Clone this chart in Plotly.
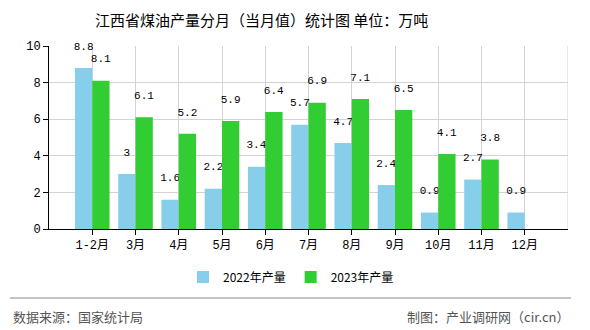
import plotly.graph_objects as go

categories = ["1-2月", "3月", "4月", "5月", "6月", "7月", "8月", "9月", "10月", "11月", "12月"]
values_2022 = [8.8, 3, 1.6, 2.2, 3.4, 5.7, 4.7, 2.4, 0.9, 2.7, 0.9]
values_2023 = [8.1, 6.1, 5.2, 5.9, 6.4, 6.9, 7.1, 6.5, 4.1, 3.8, None]
series_names = ["2022年产量", "2023年产量"]
yticks = [0, 2, 4, 6, 8, 10]

W, H = 590, 330
L, R, T, B = 49, 22, 46, 101
pw, ph = W - L - R, H - T - B

def px(x):
    return (x - L) / pw

def py(y):
    return (H - B - y) / ph

positions = list(range(1, len(categories) + 1))
cjk = "Noto Sans CJK SC"
mono = "Liberation Mono, Noto Sans CJK SC"

def fmt(v):
    if v is None:
        return ""
    s = str(int(v)) if float(v).is_integer() else str(v)
    return s + "<br><span style='font-size:4px'> </span>"

fig = go.Figure()
fig.add_trace(go.Bar(
    x=positions, y=values_2022, name=series_names[0],
    marker_color="#87CEEB", marker_line_width=0,
    text=[fmt(v) for v in values_2022], textposition="outside", constraintext="none",
    textfont=dict(family=mono, size=11, color="#000"), cliponaxis=False,
))
fig.add_trace(go.Bar(
    x=positions, y=values_2023, name=series_names[1],
    marker_color="#32CD32", marker_line_width=0,
    text=[fmt(v) for v in values_2023], textposition="outside", constraintext="none",
    textfont=dict(family=mono, size=11, color="#000"), cliponaxis=False,
))

fig.update_layout(
    width=W, height=H,
    margin=dict(l=L, r=R, t=T, b=B),
    paper_bgcolor="white", plot_bgcolor="white",
    barmode="group", bargap=0.2, bargroupgap=0,
    showlegend=True,
    legend=dict(orientation="h", x=px(291), xanchor="center", y=py(277), yanchor="middle",
                font=dict(family=cjk, size=12, color="#000"), itemwidth=30,
                traceorder="normal"),
    uniformtext=dict(mode=False),
)
fig.update_xaxes(
    range=[0, len(categories) + 1],
    tickvals=positions, ticktext=categories,
    showgrid=True, gridcolor="#d3d3d3", gridwidth=1,
    showline=True, linecolor="#000", linewidth=1,
    ticks="outside", ticklen=5, tickcolor="#000",
    tickfont=dict(family=mono, size=12, color="#000"),
    zeroline=False, fixedrange=True,
)
fig.update_yaxes(
    range=[0, 10], tickvals=yticks,
    showgrid=True, gridcolor="#d3d3d3", gridwidth=1,
    showline=True, linecolor="#000", linewidth=1,
    ticks="outside", ticklen=5, tickcolor="#000",
    tickfont=dict(family=mono, size=12, color="#000"),
    zeroline=False, fixedrange=True,
)
# right border of plot area
fig.add_shape(type="line", xref="x", yref="paper", x0=len(categories) + 1, x1=len(categories) + 1,
              y0=0, y1=1, line=dict(color="#d3d3d3", width=1))
# footer separator
fig.add_shape(type="line", xref="paper", yref="paper", x0=px(10), x1=px(571),
              y0=py(298), y1=py(298), line=dict(color="#888", width=1))

fig.add_annotation(text="江西省煤油产量分月（当月值）统计图 单位：万吨", xref="paper", yref="paper",
                   x=px(261), y=py(19), xanchor="center", yanchor="middle", showarrow=False,
                   font=dict(family=cjk, size=15, color="#000"))
fig.add_annotation(text="数据来源：国家统计局", xref="paper", yref="paper",
                   x=px(11), y=py(316), xanchor="left", yanchor="middle", showarrow=False,
                   font=dict(family=cjk, size=13, color="#555"))
fig.add_annotation(text="制图：产业调研网（cir.cn）", xref="paper", yref="paper",
                   x=px(571), y=py(316), xanchor="right", yanchor="middle", showarrow=False,
                   font=dict(family=cjk, size=13, color="#555"))

fig.write_html("out.html")
